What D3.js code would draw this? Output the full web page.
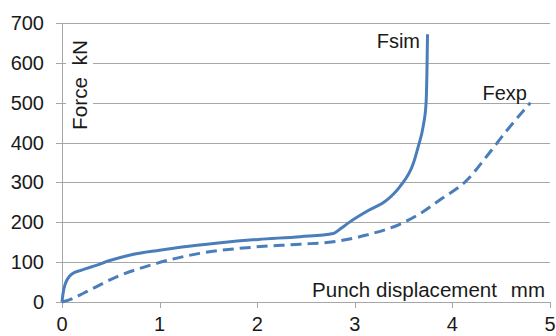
<!DOCTYPE html>
<html><head><meta charset="utf-8">
<script src="https://cdn.jsdelivr.net/npm/d3@7"></script>
<style>body{margin:0;background:#fff}svg{display:block;font-family:"Liberation Sans",Arial,sans-serif}</style>
</head><body><svg id="c" width="556" height="336"></svg>
<script>
const simX = [0, 0.01, 0.03, 0.10, 0.2, 0.35, 0.49, 0.70, 1.0, 1.23, 1.6, 2.01, 2.44, 2.78, 2.86, 2.95, 3.12, 3.33, 3.46, 3.60, 3.65, 3.70, 3.73, 3.74, 3.745];
const simF = [0, 20, 43, 70, 80, 92, 104, 118, 130, 138, 148, 157, 164, 172, 185, 201, 227, 256, 289, 348, 390, 440, 498, 590, 672];
const expX = [0, 0.1, 0.22, 0.56, 0.97, 1.41, 1.93, 2.44, 2.78, 3.12, 3.46, 3.67, 3.87, 4.15, 4.35, 4.56, 4.80];
const expF = [0, 8, 22, 63, 97, 122, 137, 145, 151, 168, 195, 222, 256, 306, 365, 431, 500];
const xTicks = [0, 1, 2, 3, 4, 5];
const yTicks = [0, 100, 200, 300, 400, 500, 600, 700];

const svg = d3.select("#c");
const x = d3.scaleLinear().domain([0, 5]).range([62, 550]);
const y = d3.scaleLinear().domain([0, 700]).range([302, 23]);
const grid = "#a6a6a6", txt = "#1a1a1a", blue = "#4a7ebb";

// gridlines + y ticks
svg.append("g").selectAll("line").data(yTicks).join("line")
  .attr("x1", 56).attr("x2", 550)
  .attr("y1", d => Math.round(y(d)) + 0.5).attr("y2", d => Math.round(y(d)) + 0.5)
  .attr("stroke", grid).attr("stroke-width", 1);
// y axis line
svg.append("line").attr("x1", 62.5).attr("x2", 62.5).attr("y1", y(700)).attr("y2", y(0))
  .attr("stroke", grid);
// x ticks
svg.append("g").selectAll("line").data(xTicks).join("line")
  .attr("x1", d => Math.round(x(d)) + 0.5).attr("x2", d => Math.round(x(d)) + 0.5)
  .attr("y1", 302).attr("y2", 308).attr("stroke", grid);

// y labels
svg.append("g").selectAll("text").data(yTicks).join("text")
  .attr("x", 44).attr("y", d => y(d) + 7).attr("text-anchor", "end")
  .attr("font-size", 20).attr("fill", txt).text(d => d);
// x labels
svg.append("g").selectAll("text").data(xTicks).join("text")
  .attr("x", d => x(d)).attr("y", 331).attr("text-anchor", "middle")
  .attr("font-size", 20).attr("fill", txt).text(d => d);

// axis title Force kN with white background
svg.append("rect").attr("x", 66).attr("y", 36).attr("width", 27).attr("height", 98).attr("fill", "#fff");
svg.append("text").attr("transform", "translate(87,130) rotate(-90)")
  .attr("font-size", 20.5).attr("fill", txt).attr("xml:space", "preserve")
  .attr("textLength", 90).attr("lengthAdjust", "spacingAndGlyphs").text("Force  kN");

svg.append("text").attr("x", 312).attr("y", 297)
  .attr("font-size", 20.5).attr("fill", txt)
  .attr("textLength", 185).attr("lengthAdjust", "spacingAndGlyphs").text("Punch displacement");
svg.append("text").attr("x", 545).attr("y", 297).attr("text-anchor", "end")
  .attr("font-size", 20.5).attr("fill", txt).text("mm");

// lines
const line = d3.line().x(d => x(d[0])).y(d => y(d[1])).curve(d3.curveMonotoneX);
svg.append("path").datum(expX.map((v, i) => [v, expF[i]])).attr("d", line)
  .attr("fill", "none").attr("stroke", blue).attr("stroke-width", 3).attr("stroke-dasharray", "11,6");
svg.append("path").datum(simX.map((v, i) => [v, simF[i]])).attr("d", line)
  .attr("fill", "none").attr("stroke", blue).attr("stroke-width", 3);

svg.append("text").attr("x", 420).attr("y", 48).attr("text-anchor", "end")
  .attr("font-size", 20).attr("fill", txt).text("Fsim");
svg.append("text").attr("x", 527).attr("y", 100).attr("text-anchor", "end")
  .attr("font-size", 20).attr("fill", txt).text("Fexp");
</script></body></html>
